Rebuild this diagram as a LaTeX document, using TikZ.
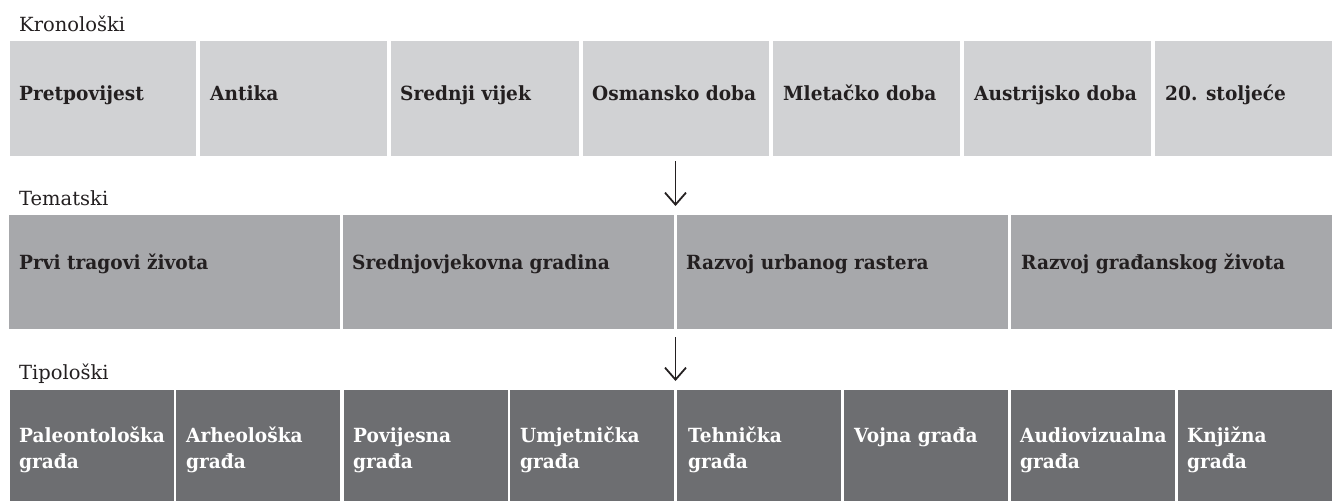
\documentclass[tikz,border=0pt]{standalone}
\usepackage{fontspec}
\setmainfont{DejaVu Serif}
\newfontfamily\boxfont[FakeStretch=0.95]{DejaVu Serif}
\usetikzlibrary{arrows.meta}
\definecolor{kronfill}{HTML}{D1D2D4}
\definecolor{temfill}{HTML}{A7A8AB}
\definecolor{tipfill}{HTML}{6D6E71}
\definecolor{ink}{HTML}{231F20}
\begin{document}
\begin{tikzpicture}[x=1pt, y=-1pt,
	rowlabel/.style={anchor=base west, inner sep=0, text=ink, font=\fontsize{19.5}{26}\selectfont},
	kron/.style={fill=kronfill, inner sep=0, minimum height=115, anchor=north west},
	tem/.style={fill=temfill, inner sep=0, minimum height=114, anchor=north west},
	tip/.style={fill=tipfill, inner sep=0, minimum height=111, anchor=north west},
	boxtext/.style={anchor=base west, inner sep=0, align=left, text=ink, font=\boxfont\bfseries\fontsize{19.5}{26}\selectfont},
	tiptext/.style={boxtext, text=white},
	arrow/.style={draw=ink, line width=1.8pt, -{Straight Barb[length=12pt, width=21pt]}}]
	\useasboundingbox (0,0) rectangle (1332,501);

	% Kronološki
	\node[rowlabel] (kronlabel) at (19,31) {Kronološki};
	\node[kron, minimum width=186] (pret) at (10,41) {};
	\node[kron, minimum width=187] (antika) at (200,41) {};
	\node[kron, minimum width=188] (srvijek) at (391,41) {};
	\node[kron, minimum width=186] (osman) at (583,41) {};
	\node[kron, minimum width=187] (mlet) at (773,41) {};
	\node[kron, minimum width=187] (austr) at (964,41) {};
	\node[kron, minimum width=177] (stolj) at (1155,41) {};
	\node[boxtext] (pretT) at (19,100) {Pretpovijest};
	\node[boxtext] (antikaT) at (210,100) {Antika};
	\node[boxtext] (srvijekT) at (400,100) {Srednji vijek};
	\node[boxtext] (osmanT) at (592,100) {Osmansko doba};
	\node[boxtext] (mletT) at (783,100) {Mletačko doba};
	\node[boxtext] (austrT) at (974,100) {Austrijsko doba};
	\node[boxtext] (stoljT) at (1165,100) {20. stoljeće};

	% Tematski
	\node[rowlabel] (temlabel) at (19,205) {Tematski};
	\node[tem, minimum width=331] (prvi) at (9,215) {};
	\node[tem, minimum width=331] (gradina) at (343,215) {};
	\node[tem, minimum width=331] (raster) at (677,215) {};
	\node[tem, minimum width=321] (gradj) at (1011,215) {};
	\node[boxtext] (prviT) at (19,269) {Prvi tragovi života};
	\node[boxtext] (gradinaT) at (352,269) {Srednjovjekovna gradina};
	\node[boxtext] (rasterT) at (686,269) {Razvoj urbanog rastera};
	\node[boxtext] (gradjT) at (1021,269) {Razvoj građanskog života};

	% Tipološki (two-line texts sit on their last baseline)
	\node[rowlabel] (tiplabel) at (19,379) {Tipološki};
	\node[tip, minimum width=164] (paleo) at (10,390) {};
	\node[tip, minimum width=164] (arheo) at (176,390) {};
	\node[tip, minimum width=164] (povij) at (344,390) {};
	\node[tip, minimum width=164] (umjet) at (510,390) {};
	\node[tip, minimum width=164] (tehn) at (677,390) {};
	\node[tip, minimum width=164] (vojna) at (844,390) {};
	\node[tip, minimum width=164] (audio) at (1011,390) {};
	\node[tip, minimum width=154] (knjiz) at (1178,390) {};
	\node[tiptext] (paleoT) at (19,468) {Paleontološka\\građa};
	\node[tiptext] (arheoT) at (186,468) {Arheološka\\građa};
	\node[tiptext] (povijT) at (353,468) {Povijesna\\građa};
	\node[tiptext] (umjetT) at (520,468) {Umjetnička\\građa};
	\node[tiptext] (tehnT) at (688,468) {Tehnička\\građa};
	\node[tiptext] (vojnaT) at (854,442) {Vojna građa};
	\node[tiptext] (audioT) at (1020,468) {Audiovizualna\\građa};
	\node[tiptext] (knjizT) at (1187,468) {Knjižna\\građa};

	% arrows
	\coordinate (a1) at (675.5,161);
	\coordinate (b1) at (675.5,206);
	\coordinate (a2) at (675.5,337);
	\coordinate (b2) at (675.5,381);
	\draw[arrow] (a1) -- (b1);
	\draw[arrow] (a2) -- (b2);
\end{tikzpicture}
\end{document}
